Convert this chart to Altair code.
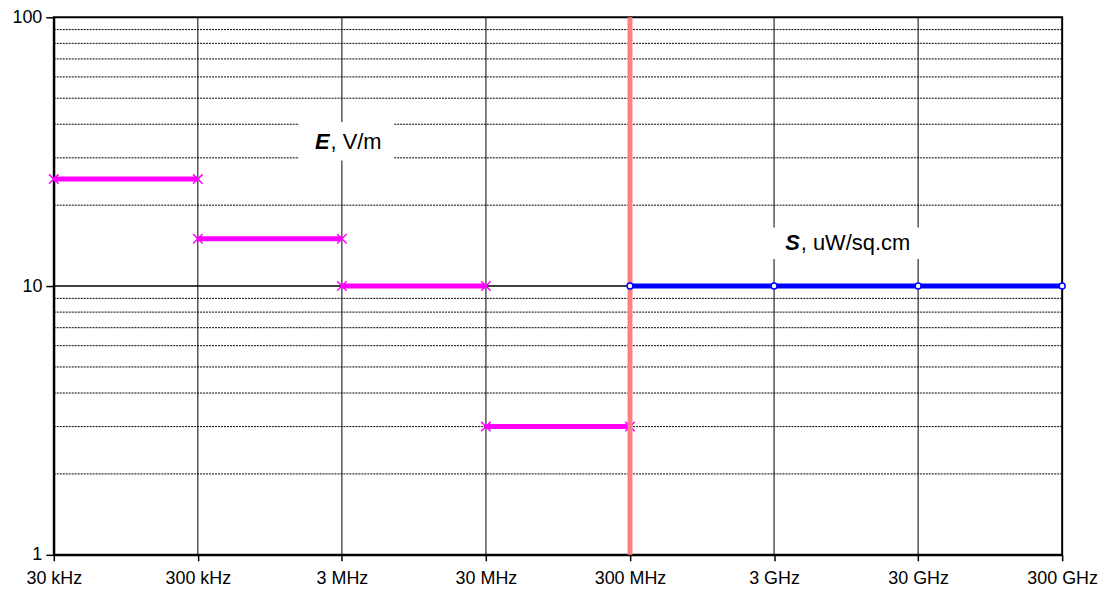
import altair as alt
import pandas as pd

# ---- data ----
freq_ticks = [3e4, 3e5, 3e6, 3e7, 3e8, 3e9, 3e10, 3e11]
freq_labels = ['30 kHz', '300 kHz', '3 MHz', '30 MHz', '300 MHz', '3 GHz', '30 GHz', '300 GHz']
y_ticks = [1, 10, 100]
minor_y = [2, 3, 4, 5, 6, 7, 8, 9, 20, 30, 40, 50, 60, 70, 80, 90]
major_y = [10]

e_start = [3e4, 3e5, 3e6, 3e7]
e_end = [3e5, 3e6, 3e7, 3e8]
e_values = [25, 15, 10, 3]

s_freq = [3e8, 3e9, 3e10, 3e11]
s_values = [10, 10, 10, 10]

boundary_freq = [3e8]

# annotation labels
label_symbols = ['E', 'S']
label_rest = [', V/m', ', uW/sq.cm']
label_x = [2.5e6, 4.6e9]
label_y = [34.4, 14.4]
box_x1 = [1.5e6, 2.8e9]
box_x2 = [6.9e6, 3.4e10]
box_y1 = [29.3, 12.6]
box_y2 = [40.8, 16.5]

FONT = 'Liberation Sans'
MAGENTA = '#FF00FF'
BLUE = '#0000FF'

xs = alt.Scale(type='log', domain=[3e4, 3e11])
ys = alt.Scale(type='log', domain=[1, 100])

labels_js = '[' + ','.join("'%s'" % l for l in freq_labels) + ']'

x_axis = alt.Axis(values=freq_ticks, labelExpr=labels_js + '[round(log(datum.value/30000)/LN10)]',
                  grid=False, domainColor='black', domainWidth=2, tickColor='black', tickSize=6,
                  tickWidth=1.5, labelFontSize=18, labelFont=FONT, labelColor='black',
                  labelPadding=9, labelFlush=False, title=None, labelOverlap=False)
y_axis = alt.Axis(values=y_ticks, labelExpr='format(datum.value, "d")', grid=False,
                  domainColor='black', domainWidth=2, tickColor='black', tickSize=8, tickWidth=1.5,
                  labelFontSize=18, labelFont=FONT, labelColor='black', labelPadding=4,
                  title=None, labelOverlap=False)


def X(field):
    return alt.X(field + ':Q', scale=xs, axis=x_axis, title=None)


def Y(field):
    return alt.Y(field + ':Q', scale=ys, axis=y_axis, title=None)


vgrid = alt.Chart(pd.DataFrame({'f': freq_ticks[1:-1]})).mark_rule(
    color='black', strokeWidth=1).encode(x=X('f'))

minor = alt.Chart(pd.DataFrame({'v': minor_y})).mark_rule(
    color='black', strokeWidth=1, strokeDash=[2, 1]).encode(y=Y('v'))

major = alt.Chart(pd.DataFrame({'v': major_y})).mark_rule(
    color='black', strokeWidth=1.5).encode(y=Y('v'))

lab_df = pd.DataFrame({'sym': label_symbols, 'rest': label_rest, 'x': label_x, 'y': label_y,
                       'x1': box_x1, 'x2': box_x2, 'y1': box_y1, 'y2': box_y2})

boxes = alt.Chart(lab_df).mark_rect(color='white').encode(
    x=X('x1'), x2='x2:Q', y=Y('y1'), y2='y2:Q')

sym_text = alt.Chart(lab_df).mark_text(
    font=FONT, fontSize=22, fontStyle='italic', fontWeight='bold', align='right',
    baseline='middle', color='black', dx=-1).encode(x=X('x'), y=Y('y'), text='sym:N')

rest_text = alt.Chart(lab_df).mark_text(
    font=FONT, fontSize=22, align='left', baseline='middle', color='black').encode(
    x=X('x'), y=Y('y'), text='rest:N')

e_df = pd.DataFrame({'s': e_start, 'e': e_end, 'v': e_values})
e_lines = alt.Chart(e_df).mark_rule(color=MAGENTA, strokeWidth=5).encode(
    x=X('s'), x2='e:Q', y=Y('v'))

e_pts_df = pd.DataFrame({'f': e_start + e_end, 'v': e_values + e_values})
e_pts = alt.Chart(e_pts_df).mark_point(
    shape='M-1,-1L1,1M1,-1L-1,1', color=MAGENTA, size=90, strokeWidth=1.5, filled=False,
    opacity=1).encode(x=X('f'), y=Y('v'))

boundary = alt.Chart(pd.DataFrame({'f': boundary_freq})).mark_rule(
    color='#FF8080', strokeWidth=5).encode(x=X('f'))

s_df = pd.DataFrame({'f': s_freq, 'v': s_values})
s_line = alt.Chart(s_df).mark_line(color=BLUE, strokeWidth=5).encode(x=X('f'), y=Y('v'))
s_pts = alt.Chart(s_df).mark_point(
    shape='circle', filled=True, fill='white', stroke=BLUE, size=35, strokeWidth=1.5,
    opacity=1).encode(x=X('f'), y=Y('v'))

chart = alt.layer(
    vgrid, minor, major, boxes, sym_text, rest_text, e_lines, e_pts, boundary, s_line, s_pts
).properties(
    width=1013, height=540,
    autosize=alt.AutoSizeParams(type='none'),
    padding={'left': 46, 'top': 8, 'right': 36, 'bottom': 36},
    background='white'
).configure_view(stroke='black', strokeWidth=2)

chart.save("out.html", embed_options={"renderer": "svg", "actions": False})
